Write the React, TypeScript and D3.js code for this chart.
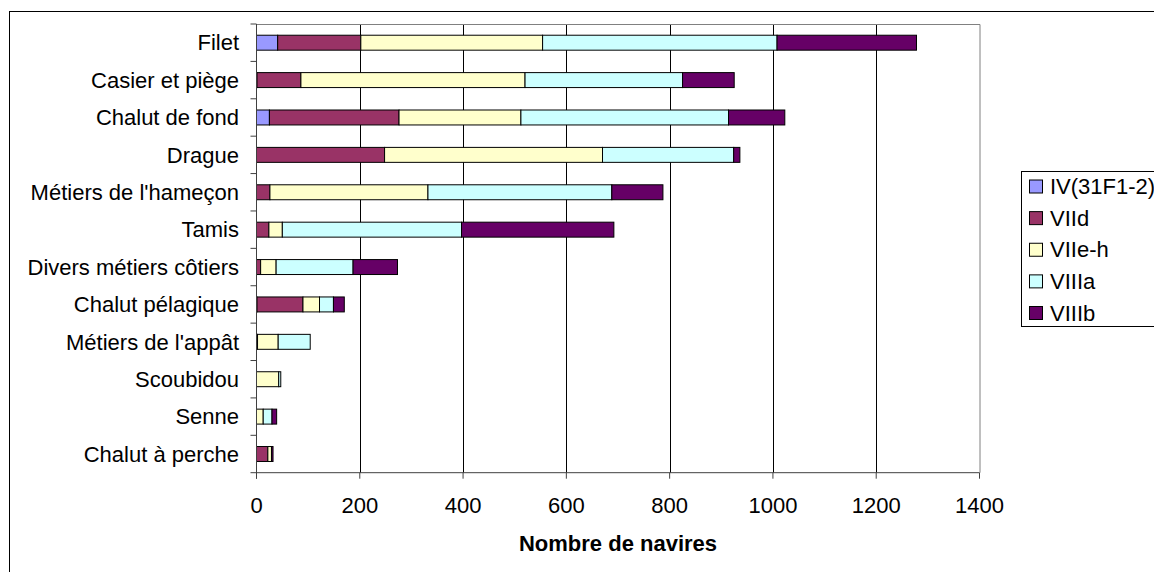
import { useEffect, useRef } from 'react';
import * as d3 from 'd3';

const categories = [
  'Filet',
  'Casier et piège',
  'Chalut de fond',
  'Drague',
  "Métiers de l'hameçon",
  'Tamis',
  'Divers métiers côtiers',
  'Chalut pélagique',
  "Métiers de l'appât",
  'Scoubidou',
  'Senne',
  'Chalut à perche',
];

const zones = ['IV(31F1-2)', 'VIId', 'VIIe-h', 'VIIIa', 'VIIIb'];

const ivValues = [41, 1, 25, 0, 0, 0, 0, 1, 0, 0, 0, 0];
const viidValues = [161, 85, 251, 248, 26, 24, 8, 89, 2, 0, 0, 22];
const viiehValues = [352, 434, 236, 422, 306, 26, 30, 32, 40, 43, 13, 7];
const viiiaValues = [454, 305, 402, 254, 356, 347, 149, 27, 62, 4, 17, 0];
const viiibValues = [270, 100, 109, 12, 99, 295, 86, 21, 0, 0, 9, 3];

const xTicks = [0, 200, 400, 600, 800, 1000, 1200, 1400];

const colors = ['#9999ff', '#993366', '#ffffcc', '#ccffff', '#660066'];

const FONT = '"Liberation Sans", Arial, sans-serif';

export default function App() {
  const ref = useRef<SVGSVGElement | null>(null);

  useEffect(() => {
    if (!ref.current) return;
    const svg = d3.select(ref.current);
    svg.selectAll('*').remove();

    const left = 256.5;
    const right = 979.5;
    const top = 24;
    const bottom = 472.7;

    const x = d3.scaleLinear().domain([0, 1400]).range([left, right]);
    const y = d3
      .scaleBand<string>()
      .domain(categories)
      .range([top, bottom])
      .paddingInner(0.6)
      .paddingOuter(0.3);

    const rows = categories.map((c, i) => ({
      cat: c,
      [zones[0]]: ivValues[i],
      [zones[1]]: viidValues[i],
      [zones[2]]: viiehValues[i],
      [zones[3]]: viiiaValues[i],
      [zones[4]]: viiibValues[i],
    }));
    const stacked = d3.stack<any>().keys(zones)(rows);

    // outer chart frame (runs off the picture on the right and bottom)
    svg
      .append('rect')
      .attr('x', 9.5)
      .attr('y', 11.5)
      .attr('width', 1200)
      .attr('height', 600)
      .attr('fill', '#fff')
      .attr('stroke', '#000');

    // gridlines
    svg
      .append('g')
      .selectAll('line')
      .data(xTicks.filter((t) => t > 0 && t < 1400))
      .join('line')
      .attr('x1', (d) => Math.round(x(d)) + 0.5)
      .attr('x2', (d) => Math.round(x(d)) + 0.5)
      .attr('y1', top)
      .attr('y2', bottom)
      .attr('stroke', '#000')
      .attr('stroke-width', 1);

    // plot border top/right
    svg
      .append('path')
      .attr('d', `M${left},${top + 0.5}H${right + 0.5}V${bottom}`)
      .attr('fill', 'none')
      .attr('stroke', '#808080');

    // bars
    const layers = svg.append('g');
    stacked.forEach((layer, k) => {
      layers
        .append('g')
        .selectAll('rect')
        .data(layer.filter((d) => d[1] - d[0] > 0))
        .join('rect')
        .attr('x', (d) => x(d[0]))
        .attr('y', (d) => y(d.data.cat)!)
        .attr('width', (d) => x(d[1]) - x(d[0]))
        .attr('height', y.bandwidth())
        .attr('fill', colors[k])
        .attr('stroke', '#000')
        .attr('stroke-width', 1);
    });

    // axes
    const axisColor = '#404040';
    svg
      .append('line')
      .attr('x1', left)
      .attr('x2', left)
      .attr('y1', top)
      .attr('y2', bottom + 6)
      .attr('stroke', axisColor);
    svg
      .append('line')
      .attr('x1', left - 6)
      .attr('x2', right)
      .attr('y1', bottom)
      .attr('y2', bottom)
      .attr('stroke', axisColor);

    const half = y.step() / 2;
    const bounds = categories.map((c) => y(c)! + y.bandwidth() / 2 - half);
    svg
      .append('g')
      .selectAll('line')
      .data(bounds)
      .join('line')
      .attr('x1', left - 6)
      .attr('x2', left)
      .attr('y1', (d) => d)
      .attr('y2', (d) => d)
      .attr('stroke', axisColor);

    svg
      .append('g')
      .selectAll('line')
      .data(xTicks)
      .join('line')
      .attr('x1', (d) => x(d))
      .attr('x2', (d) => x(d))
      .attr('y1', bottom)
      .attr('y2', bottom + 6)
      .attr('stroke', axisColor);

    svg
      .append('g')
      .selectAll('text')
      .data(categories)
      .join('text')
      .attr('x', 239)
      .attr('y', (d) => y(d)! + y.bandwidth() / 2)
      .attr('dy', '0.35em')
      .attr('text-anchor', 'end')
      .attr('font-family', FONT)
      .attr('font-size', 22)
      .text((d) => d);

    svg
      .append('g')
      .selectAll('text')
      .data(xTicks)
      .join('text')
      .attr('x', (d) => x(d))
      .attr('y', 505)
      .attr('dy', '0.35em')
      .attr('text-anchor', 'middle')
      .attr('font-family', FONT)
      .attr('font-size', 22)
      .text((d) => d);

    svg
      .append('text')
      .attr('x', (left + right) / 2)
      .attr('y', 543)
      .attr('dy', '0.35em')
      .attr('text-anchor', 'middle')
      .attr('font-family', FONT)
      .attr('font-size', 22)
      .attr('font-weight', 'bold')
      .text('Nombre de navires');

    // legend
    const lg = svg.append('g');
    lg.append('rect')
      .attr('x', 1021.5)
      .attr('y', 171.5)
      .attr('width', 200)
      .attr('height', 155)
      .attr('fill', '#fff')
      .attr('stroke', '#000');
    const ly = d3.scalePoint<string>().domain(zones).range([186.5, 313]);
    zones.forEach((z, k) => {
      const cy = ly(z)!;
      lg.append('rect')
        .attr('x', 1029.5)
        .attr('y', cy - 6.5)
        .attr('width', 13)
        .attr('height', 13)
        .attr('fill', colors[k])
        .attr('stroke', '#000');
      lg.append('text')
        .attr('x', 1050)
        .attr('y', cy)
        .attr('dy', '0.35em')
        .attr('font-family', FONT)
        .attr('font-size', 22)
        .text(z);
    });
  }, []);

  return (
    <svg
      ref={ref}
      width={1154}
      height={572}
      viewBox="0 0 1154 572"
      style={{ position: 'absolute', left: 0, top: 0, background: '#fff' }}
    />
  );
}
